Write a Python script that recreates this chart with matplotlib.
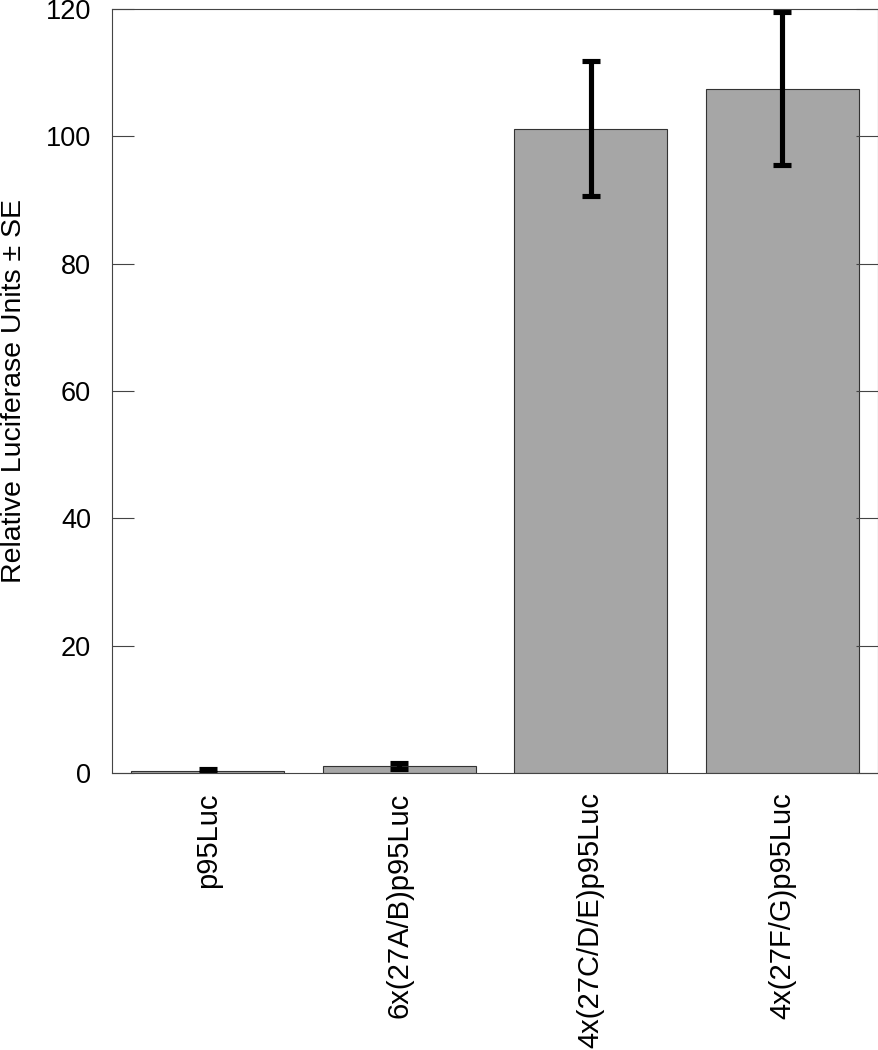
import numpy as np
import matplotlib.pyplot as plt

plt.rcParams['font.family'] = ['Liberation Sans', 'DejaVu Sans']

constructs = ["p95Luc", "6x(27A/B)p95Luc", "4x(27C/D/E)p95Luc", "4x(27F/G)p95Luc"]
luc_mean = [0.3, 1.1, 101.2, 107.5]
luc_se = [0.3, 0.4, 10.6, 12.0]

fig = plt.figure(figsize=(8.79, 10.5), dpi=100)
ax = fig.add_axes([112 / 879, 1 - 773 / 1050, 766 / 879, 764 / 1050])

x = np.arange(len(constructs))
ax.bar(x, luc_mean, width=0.8, color='#a6a6a6', edgecolor='#333333', linewidth=0.8)
ax.errorbar(x, luc_mean, yerr=luc_se, fmt='none', ecolor='black',
            elinewidth=3.7, capsize=6.5, capthick=3.7)

ax.set_xlim(-0.5, 3.5)
ax.set_ylim(0, 120)
ax.set_yticks([0, 20, 40, 60, 80, 100, 120])
ax.set_xticks(x)
ax.set_xticklabels(constructs, rotation=90, fontsize=21)
ax.tick_params(axis='x', length=0, pad=14)
ax.tick_params(axis='y', direction='in', length=16, width=0.8, color='#444444',
               labelsize=19.5, right=True, pad=15)
for s in ax.spines.values():
    s.set_linewidth(0.8)
    s.set_color('#444444')

ax.set_ylabel("Relative Luciferase Units ± SE", fontsize=20.5)
ax.yaxis.set_label_coords(-85 / 766, 0.5)

fig.savefig("out.png", dpi=100)
